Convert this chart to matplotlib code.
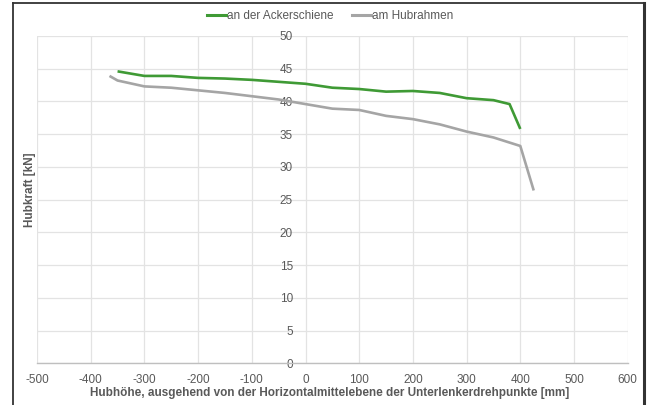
import matplotlib
matplotlib.use("Agg")
import matplotlib.pyplot as plt
from matplotlib.lines import Line2D

plt.rcParams['font.family'] = ['Liberation Sans', 'DejaVu Sans']

# Data
x_acker = [-350, -300, -250, -200, -150, -100, -50, 0, 50, 100, 150, 200, 250, 300, 350, 380, 400]
y_acker = [44.6, 43.9, 43.9, 43.6, 43.5, 43.3, 43.0, 42.7, 42.1, 41.9, 41.5, 41.6, 41.3, 40.5, 40.2, 39.6, 35.8]
x_hub = [-365, -350, -300, -250, -200, -150, -100, -50, 0, 50, 100, 150, 200, 250, 300, 350, 400, 425]
y_hub = [43.9, 43.2, 42.3, 42.1, 41.7, 41.3, 40.8, 40.3, 39.6, 38.9, 38.7, 37.8, 37.3, 36.5, 35.4, 34.5, 33.2, 26.4]
x_ticks = list(range(-500, 601, 100))
y_ticks = list(range(0, 51, 5))
series_names = ["an der Ackerschiene", "am Hubrahmen"]

W, H = 649, 405
fig = plt.figure(figsize=(W / 100, H / 100), dpi=100)
ax = fig.add_axes([37 / W, (H - 363.3) / H, (627.7 - 37) / W, (363.3 - 36) / H])

green = "#3f9a35"
gray = "#a5a5a5"
tick_col = "#595959"

ax.plot(x_acker, y_acker, color=green, lw=1.9, solid_capstyle='butt', zorder=3)
ax.plot(x_hub, y_hub, color=gray, lw=1.9, solid_capstyle='butt', zorder=3)

ax.set_xlim(-500, 600)
ax.set_ylim(0, 50)
ax.set_xticks(x_ticks)
ax.set_yticks(y_ticks)
ax.grid(True, color="#e3e3e3", lw=0.9, zorder=0)
ax.set_axisbelow(True)
for s in ['top', 'right']:
    ax.spines[s].set_visible(False)
ax.spines['left'].set_position(('data', 0))
ax.spines['left'].set_visible(False)
ax.spines['bottom'].set_color("#bfbfbf")
ax.spines['bottom'].set_linewidth(1.0)
ax.tick_params(axis='both', length=0, labelsize=8.5, labelcolor=tick_col)
ax.tick_params(axis='x', pad=8)
ax.tick_params(axis='y', pad=9)
ax.set_xticklabels([str(v) for v in x_ticks])
ax.set_yticklabels([str(v) for v in y_ticks])

# Axis titles
fig.text(330 / W, 1 - 393 / H, "Hubhöhe, ausgehend von der Horizontalmittelebene der Unterlenkerdrehpunkte [mm]",
         ha='center', va='center', fontsize=8.5, fontweight='bold', color=tick_col)
fig.text(30 / W, 1 - 190 / H, "Hubkraft [kN]", rotation=90, ha='center', va='center',
         fontsize=8.5, fontweight='bold', color=tick_col)

# Legend
handles = [Line2D([], [], color=green, lw=2.2), Line2D([], [], color=gray, lw=2.2)]
fig.legend(handles, series_names, loc='center', bbox_to_anchor=(330 / W, 1 - 16 / H), ncol=2,
           frameon=False, fontsize=8.5, labelcolor=tick_col, handlelength=1.6, handletextpad=0.1,
           columnspacing=1.6)

# Chart border
fig.add_artist(Line2D([13 / W, 13 / W], [0, 1 - 3 / H], transform=fig.transFigure, color="#333333", lw=1.3))
fig.add_artist(Line2D([13 / W, 643 / W], [1 - 3 / H, 1 - 3 / H], transform=fig.transFigure, color="#333333", lw=1.3))
fig.add_artist(Line2D([643.5 / W, 643.5 / W], [0, 1 - 3 / H], transform=fig.transFigure, color="#333333", lw=2.2))

fig.savefig("out.png", dpi=100)
